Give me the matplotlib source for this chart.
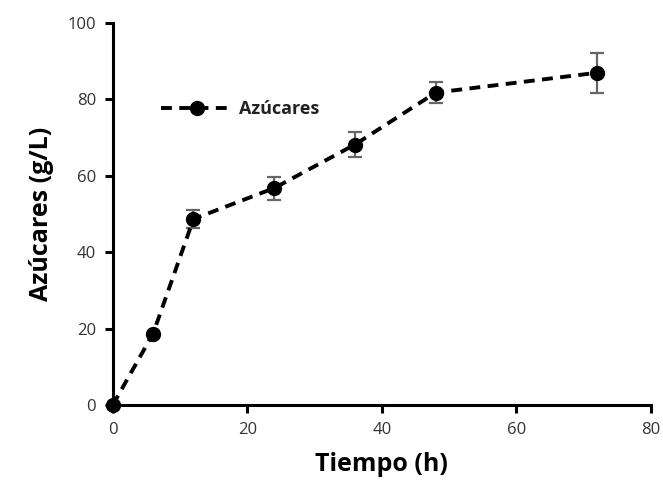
import numpy as np
import matplotlib.pyplot as plt

# Data
tiempo   = [0, 6, 12, 24, 36, 48, 72]
azucares = [0, 18.7, 48.7, 56.8, 68.2, 81.8, 87.0]
error    = [0, 0, 2.3, 3.0, 3.2, 2.8, 5.2]

plt.rcParams['font.family'] = ['Open Sans', 'DejaVu Sans']

fig = plt.figure(figsize=(6.63, 4.91), dpi=100)
ax = fig.add_axes([0.170, 0.175, 0.812, 0.778])

# error bars drawn without legend entry, then the dashed line with markers
ax.errorbar(tiempo, azucares, yerr=error, fmt='none', ecolor='#666666',
            elinewidth=1.6, capsize=5, capthick=1.6, zorder=2)
ax.plot(tiempo, azucares, color='black', linestyle=(0, (2.8, 1.9)),
        linewidth=2.8, marker='o', markersize=10, label='Azúcares',
        zorder=3, clip_on=False)

ax.set_xlim(0, 80)
ax.set_ylim(0, 100)
ax.set_xticks(np.arange(0, 81, 20))
ax.set_yticks(np.arange(0, 101, 20))
ax.spines['top'].set_visible(False)
ax.spines['right'].set_visible(False)
ax.spines['left'].set_linewidth(2.2)
ax.spines['bottom'].set_linewidth(2.2)
ax.tick_params(direction='out', length=6, width=2.2, labelsize=12,
               labelcolor='#333333', pad=6)

ax.set_xlabel('Tiempo (h)', fontsize=18, fontweight='bold', labelpad=10)
ax.set_ylabel('Azúcares (g/L)', fontsize=18, fontweight='bold', labelpad=10)

leg = ax.legend(loc='upper left', bbox_to_anchor=(0.06, 0.84), frameon=False,
                fontsize=13, handlelength=4, handletextpad=0.3)
for t in leg.get_texts():
    t.set_fontweight('bold')
    t.set_color('#222222')

plt.savefig('out.png', dpi=100)
